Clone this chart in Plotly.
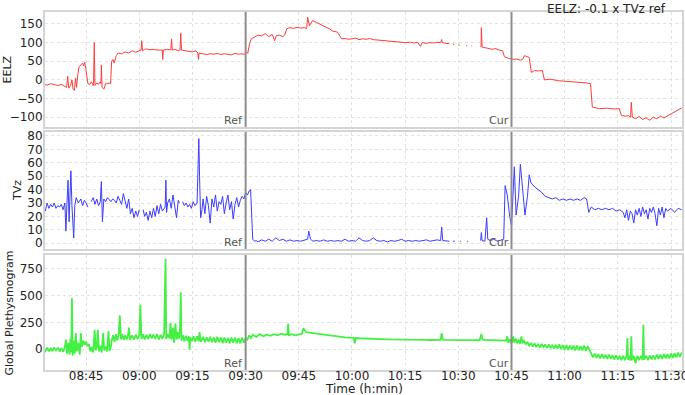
import plotly.graph_objects as go
from plotly.subplots import make_subplots
import pandas as pd

START = "2024-01-01 08:33:00"   # minutes below are counted from this time

# EELZ (minute offset, value); None marks a gap
eelz = [(0,-12),(1,-14),(2,-10),(3,-13),(4,-15),(5,-12),(6,-16),(6.5,-20),(6.8,10),(7.1,-22),(7.6,-15),(8.0,0),
(8.3,-25),(8.7,-28),(9.0,5),(9.3,-20),(9.6,10),(10.0,35),(10.5,40),(11.0,45),(11.3,38),(11.6,48),(11.9,30),(12.2,10),
(12.5,-10),(13,-12),(13.5,-5),(14,-15),(14.1,-10),(14.3,100),(14.5,-15),(15,-8),(15.5,-12),(16,-5),(16.2,-10),(16.3,40),
(16.5,-20),(17,-25),(17.5,-10),(18,-10),(18.5,-8),(18.9,-10),(19.2,50),(19.6,55),(19.9,45),(20.5,65),(21,72),(22,70),
(23,75),(24,72),(25,78),(26,74),(27,77),(27.5,80),(27.7,105),(27.9,78),(28.5,82),(29,83),(30,81),(31,82),(32,80),
(33,81),(33.5,80),(33.6,55),(33.8,80),(35,82),(35.9,80),(36.1,110),(36.3,80),(37,82),(38,78),(38.5,80),(38.7,125),
(38.9,80),(40,78),(41,77),(42,75),(43,78),(43.5,72),(43.7,55),(43.9,72),(45,70),(46,68),(47,70),(48,69),(49,71),
(50,68),(51,70),(52,69),(53,67),(54,71),(55,69),(56,70),(56.8,68),(57.2,75),(57.6,71),(58.1,97),(58.6,110),(59.5,115),
(60.5,120),(61.5,118),(62.5,124),(63.5,116),(64.5,122),(65.2,105),(65.6,118),(66.5,120),(67.5,116),(68,120),(68.6,137),
(69.5,140),(70.5,138),(71.5,141),(72.5,139),(73.5,140),(74.2,138),(74.5,168),(75,145),(75.3,150),(75.9,159),(77,154),
(78.4,146),(79.5,142),(80.7,137),(81.5,131),(82.9,128),(84.1,110),(85,111),(86,109),(87,110),(88,112),(89,108),
(90,110),(91,109),(92,111),(93,108),(94,107),(95.3,106),(96.2,104),(97.5,103),(99,102),(100.5,101),(102,100),
(103.5,101),(104.6,99),(105.5,101),(106.3,90),(106.8,100),(108,98),(109,100),(110,99),(111,101),(112,100),(112.3,108),
(112.5,100),(113.5,98),(114.5,97),(114.6,None),(115.4,96),(115.8,95),(115.9,None),(117,94),(117.4,93),(117.5,None),
(119.2,92),(119.5,91),(119.6,None),(120.7,91),(120.9,90),(121,None),(123.4,88),(123.5,140),(123.7,88),(124.5,87),
(125.2,85),(126.5,82),(127.5,84),(128.5,80),(129.5,78),(130,62),(131,58),(131.4,57),(132.5,55),(133.5,56),(134.5,53),
(135.1,55),(135.7,65),(136.5,63),(137,60),(137.6,20),(138.5,25),(139.5,24),(140.7,25),(141.3,0),(143,2),(145,-2),
(147,-3),(149,-5),(151,-6),(153,-8),(154.3,-10),(154.8,-73),(156.8,-77),(159,-76),(161,-78),(162.4,-77),(163,-95),
(164,-97),(165,-96),(165.6,-100),(165.8,-60),(166.1,-100),(167,-104),(168,-98),(169,-106),(170,-102),(171,-108),
(172,-100),(173,-104),(174,-97),(175,-102),(175.7,-98),(177,-90),(178.5,-83),(180,-75)]

# TVz (minute offset, value)
tvz = [(0,28),(0.5,24),(1,30),(1.5,26),(2,29),(2.5,27),(3,30),(3.5,26),(4,28),(4.5,27),(5,29),(5.5,25),(6,30),(6.3,9),
(6.6,30),(6.9,47),(7.2,16),(7.5,40),(7.7,54),(8.0,28),(8.3,10),(8.5,4),(8.8,28),(9.2,34),(9.8,30),(10.5,33),(11,28),
(11.5,32),(12,30),(12.5,27),(12.6,None),(13.4,31),(14,34),(14.5,29),(15,33),(15.5,28),(16,31),(16.3,46),(16.6,16),
(17,33),(17.5,31),(18,34),(18.5,32),(19,31),(19.5,33),(20,32),(20.5,30),(21,35),(21.5,32),(22,29),(22.5,37),(23,30),
(23.5,26),(24,33),(24.5,22),(25,26),(25.5,19),(26,24),(26.5,20),(27,25),(27.2,None),(28.1,25),(28.5,20),(29,23),
(29.5,17),(30,24),(30.5,19),(31,26),(31.5,20),(32,28),(32.5,22),(33,29),(33.5,24),(34.3,27),(34.5,47),(34.7,23),
(35,30),(35.5,33),(36,26),(36.5,36),(37,29),(37.5,19),(38,32),(38.3,30),(38.4,None),(39.2,31),(39.7,28),(40.2,30),
(40.7,27),(41.2,29),(41.7,26),(42.2,31),(42.7,28),(43.3,30),(43.6,60),(43.8,78),(44.0,50),(44.3,19),(44.7,25),(45,33),
(45.5,22),(46,35),(46.5,28),(47,15),(47.5,33),(48,27),(48.5,36),(49,24),(49.5,31),(50,29),(50.5,35),(51,22),(51.5,30),
(52,36),(52.5,25),(53,31),(53.5,18),(54,29),(54.5,34),(55,27),(55.5,32),(56,35),(56.5,33),(57,38),(57.5,36),(58,39),
(58.4,40),(58.7,25),(59,3),(59.5,1.5),(60,2),(60.5,1),(61.5,2.5),(62.5,1.5),(63.5,3),(64.5,1.5),(65.5,4),(66.5,2),
(67.5,3),(68.5,1.5),(69.5,2.5),(70.5,1.5),(71.5,2),(72.5,1.5),(73.5,2),(74.5,3),(74.8,9),(75.3,3),(76,1.5),(77,2),
(78,1.5),(79,2.5),(80,1.5),(81,2),(82,1.5),(83,2),(84,1.5),(85,3),(86,1.5),(87,2),(88,1.5),(89,4),(90,2),(91,1.5),
(92,2),(93,4),(94,2),(95,1.5),(96,2),(97,1),(98,2),(99,1.5),(100,2),(101,3),(102,1.5),(103,2),(104,1.5),(105,2),
(106,1.5),(107,2),(108,2.5),(109,1.5),(110,2),(111,2.5),(112,2),(112.3,12),(112.6,2),(113.5,1.5),(114.5,1.5),
(114.6,None),(115.5,1.5),(116,1.5),(116.1,None),(117.5,1.5),(117.8,1.5),(117.9,None),(119.5,1.5),(119.8,1.5),
(119.9,None),(123.3,2),(123.5,8),(123.7,2),(124.5,1.5),(125,19),(125.3,3),(126,2),(127,3),(128,1.5),(129,2.5),
(129.8,3),(130.2,43),(130.8,36),(131.5,20),(132,13),(132.5,40),(132.8,57),(133.3,21),(134,35),(134.5,59),(135,45),
(135.8,21),(136.5,35),(137,51),(137.5,45),(138.5,42),(139.5,40),(140.5,38),(141.5,35),(142.5,34),(143.5,33),
(144.5,34),(145.5,32),(146.5,33),(147.5,32),(148.5,33),(149.5,32),(150.5,33),(151.5,32),(152.5,34),(153.2,33),
(153.8,23),(154.5,27),(155.5,25),(156.5,26),(157.5,25),(158.5,26),(159.5,25),(160.5,26),(161.5,24),(162.5,25),
(163.5,23),(164,19),(164.5,25),(165,17),(165.5,24),(166,22),(166.5,15),(167,25),(167.5,21),(168,26),(168.5,20),
(169,27),(169.5,22),(170,25),(170.5,18),(171,26),(171.5,23),(172,27),(172.5,22),(173,13),(173.5,26),(174,21),
(174.5,27),(175,19),(175.5,26),(176,24),(177,26),(178,23),(179,26),(180,25)]

# Global Plethysmogram (minute offset, value)
gp = [(0,10),(0.5,-15),(1,15),(1.5,-20),(2,12),(2.5,-18),(3,18),(3.5,-10),(4,15),(4.5,-20),(5,10),(5.5,-25),(6,20),
(6.3,90),(6.6,-40),(7,60),(7.3,-50),(7.6,100),(7.8,-30),(8.0,475),(8.2,-60),(8.5,80),(8.8,-40),(9.1,150),(9.4,-20),
(9.8,60),(10.2,-50),(10.5,150),(10.8,20),(11.2,80),(11.6,40),(12,70),(12.4,30),(12.8,50),(13.2,-20),(13.6,20),
(14,-30),(14.4,180),(14.7,-10),(15,20),(15.3,180),(15.6,-20),(16,30),(16.4,-30),(16.8,150),(17.1,-10),(17.5,25),
(17.9,-20),(18.3,170),(18.6,-15),(19,25),(19.2,80),(19.6,130),(20,70),(20.4,140),(20.8,80),(21.2,150),(21.5,315),
(21.8,90),(22.2,140),(22.6,85),(23,130),(23.4,90),(23.8,125),(24.1,200),(24.4,85),(25,130),(25.5,90),(26,135),
(26.5,95),(27,130),(27.3,413),(27.6,95),(28,140),(28.5,90),(29,135),(29.5,95),(30,140),(30.5,100),(31,135),
(31.5,95),(32,140),(32.5,90),(33,135),(33.5,95),(34,140),(34.4,840),(34.6,95),(35,140),(35.5,100),(35.8,245),
(36.1,90),(36.5,200),(36.8,60),(37.2,240),(37.5,90),(37.9,160),(38.2,95),(38.5,200),(38.7,528),(38.9,80),(39.3,130),
(39.7,75),(40.2,125),(40.6,80),(41,120),(41.2,-5),(41.4,110),(41.8,75),(42.3,120),(42.8,70),(43.3,120),(43.7,75),
(44,160),(44.3,70),(45,115),(45.5,65),(46,110),(46.5,70),(47,115),(47.5,65),(48,110),(48.5,60),(49,115),(49.5,65),
(50,110),(50.5,55),(51,110),(51.5,60),(52,105),(52.5,55),(53,110),(53.5,60),(54,110),(54.5,55),(55,105),(55.5,55),
(56,110),(56.5,60),(57,105),(57.5,90),(58,130),(58.5,105),(59,135),(60,115),(61,140),(62,120),(63,135),(64,125),
(65,140),(66,130),(67,145),(68,135),(68.8,140),(69.0,235),(69.2,130),(70,140),(71,130),(72,138),(72.8,140),
(73.3,195),(74,160),(75,155),(76,150),(77,145),(78,140),(79,135),(80,130),(81,125),(82,120),(83,115),(84,112),
(85,110),(86,108),(87,106),(87.5,105),(87.8,55),(88.1,104),(89,102),(90,100),(91,98),(92,97),(93,96),(94,95),
(95,94),(96,93),(97,92),(98,91),(99,92),(100,90),(101,91),(102,90),(103,89),(104,90),(105,88),(106,89),(107,87),
(108,88),(109,86),(110,87),(111,86),(112,88),(112.3,150),(112.6,90),(113,88),(114,86),(115,87),(116,85),(117,86),
(118,84),(119,85),(120,83),(121,84),(122,83),(123,84),(123.5,142),(123.8,90),(124.5,86),(125.5,84),(126.5,85),
(127.5,83),(128.5,84),(129.5,82),(130.5,80),(130.8,120),(131.1,60),(131.5,95),(132,55),(132.5,120),(132.8,60),
(133.2,100),(133.6,55),(134,90),(134.4,50),(134.8,120),(135.1,55),(135.5,85),(136,45),(136.5,70),(137,30),
(137.5,60),(138,25),(138.5,55),(139,20),(139.5,50),(140,15),(140.5,50),(141,20),(141.5,45),(142,10),(142.5,45),
(143,10),(143.5,40),(144,5),(144.5,40),(145,5),(145.5,45),(146,0),(146.5,40),(147,-5),(147.5,40),(148,-5),
(148.5,35),(149,-5),(149.5,35),(150,-10),(150.5,35),(151,-10),(151.5,30),(152,-10),(152.5,35),(153,-15),(153.5,30),
(154,-10),(154.5,-40),(155,-75),(155.5,-40),(156,-80),(156.5,-45),(157,-85),(157.5,-45),(158,-85),(158.5,-50),
(159,-90),(159.5,-50),(160,-90),(160.5,-55),(161,-95),(161.5,-55),(162,-95),(162.5,-60),(163,-100),(163.5,-60),
(164,-100),(164.5,-55),(164.7,105),(164.9,-100),(165.3,-60),(165.6,-105),(165.8,120),(166,-100),(166.5,-60),
(167,-130),(167.5,-60),(168,-100),(168.5,-60),(169,-100),(169.2,228),(169.4,-95),(170,-60),(170.5,-100),(171,-55),
(171.5,-95),(172,-55),(172.5,-95),(173,-50),(173.5,-90),(174,-50),(174.5,-90),(175,-45),(175.5,-85),(176,-45),
(176.5,-85),(177,-40),(177.5,-80),(178,-35),(178.5,-75),(179,-30),(179.5,-70),(180,-30)]

series_names = ["EELZ", "TVz", "Global Plethysmogram"]
series_colors = ["#ff3c3c", "#3c3cff", "#44f044"]
series_widths = [1, 1, 1.8]
marker_times = ["2024-01-01 09:30", "2024-01-01 10:45"]
marker_labels = ["Ref", "Cur"]
title_text = "EELZ: -0.1 x TVz ref"

def to_xy(pairs):
    t0 = pd.Timestamp(START)
    xs = [t0 + pd.Timedelta(minutes=m) for m, _ in pairs]
    ys = [v for _, v in pairs]
    return xs, ys

fig = make_subplots(rows=3, cols=1, shared_xaxes=True)
for i, data in enumerate([eelz, tvz, gp]):
    xs, ys = to_xy(data)
    fig.add_trace(go.Scatter(x=xs, y=ys, mode="lines",
                             line=dict(color=series_colors[i], width=series_widths[i]),
                             connectgaps=False, showlegend=False), row=i + 1, col=1)

domains = [[0.679, 1.0], [0.338, 0.665], [0.0, 0.321]]
yranges = [[-126, 182], [-4.3, 83], [-192, 873]]
ytickvals = [[-100, -50, 0, 50, 100, 150], list(range(0, 81, 10)), [0, 250, 500, 750]]

grid = dict(showgrid=True, gridcolor="#e2e2e2", griddash="dot", gridwidth=1,
            showline=True, mirror=True, linecolor="#d4d4d4", linewidth=2,
            zeroline=False, ticks="", automargin=False)
for i in range(3):
    ax = "" if i == 0 else str(i + 1)
    fig.layout["yaxis" + ax].update(domain=domains[i], range=yranges[i], tickvals=ytickvals[i],
                                    ticklabelstandoff=-2, **grid)
    fig.layout["xaxis" + ax].update(range=["2024-01-01 08:33:24", "2024-01-01 11:33:06"],
                                    tick0="2024-01-01 08:45", dtick=900000, tickformat="%H:%M",
                                    showticklabels=(i == 2), ticklabelstandoff=-6,
                                    ticklabeloverflow="allow", **grid)

for i in range(3):
    ax = "" if i == 0 else str(i + 1)
    for t, lab in zip(marker_times, marker_labels):
        fig.add_shape(type="line", x0=t, x1=t, y0=0, y1=1, xref="x" + ax, yref="y" + ax + " domain",
                      line=dict(color="#8c8c8c", width=2))
        fig.add_annotation(x=t, y=0, xref="x" + ax, yref="y" + ax + " domain", text=lab,
                           showarrow=False, xanchor="right", yanchor="bottom", xshift=-1, yshift=-2,
                           font=dict(size=11, color="#555555"))

# y-axis titles
ytitle_x = [-0.0597, -0.0432, -0.055]
for i, name in enumerate(series_names):
    fig.add_annotation(x=ytitle_x[i], y=(domains[i][0] + domains[i][1]) / 2, xref="paper", yref="paper",
                       text=name, textangle=-90, showarrow=False, xanchor="center", yanchor="middle",
                       font=dict(size=11, color="#222222"))

fig.add_annotation(x=0.5, y=-0.0525, xref="paper", yref="paper", text="Time (h:min)", showarrow=False,
                   xanchor="center", yanchor="middle", font=dict(size=12, color="#222222"))
fig.add_annotation(x=0.978, y=1.0335, xref="paper", yref="paper", text=title_text, showarrow=False,
                   xanchor="right", yanchor="top", font=dict(size=12, color="#222222"))

fig.update_layout(width=685, height=395, margin=dict(l=45, r=3, t=12, b=25),
                  plot_bgcolor="white", paper_bgcolor="white", showlegend=False,
                  font=dict(family="DejaVu Sans", size=12, color="#222222"))
fig.write_html("out.html", config={"displayModeBar": False},
               post_script="document.body.style.margin='0';document.body.style.overflow='hidden';")
